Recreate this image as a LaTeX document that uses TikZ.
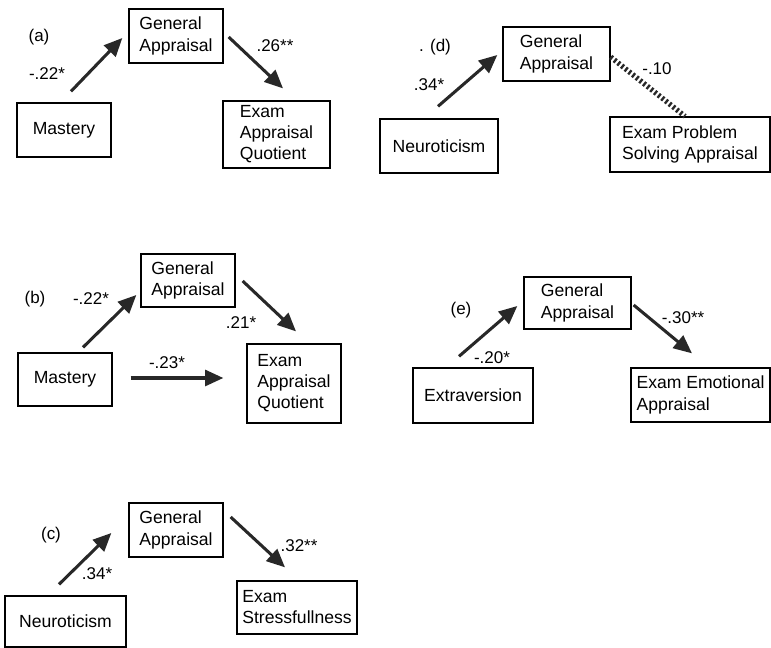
\documentclass[tikz,border=0pt]{standalone}
\usepackage{fontspec}
\setmainfont{Liberation Sans}
\usepackage{tikz}
\usetikzlibrary{arrows.meta, calc}
\definecolor{pathgray}{RGB}{40, 40, 40}

\begin{document}
\begin{tikzpicture}[x=0.03cm, y=0.03cm,
    box/.style={draw, line width=1.1pt, align=left, inner sep=3pt, font=\fontsize{15}{18}\selectfont},
    arr/.style={pathgray, line width=2.6pt, -{Triangle[length=0.55cm, width=0.48cm]}},
    nopath/.style={pathgray, line width=4.5pt, dash pattern=on 2pt off 2pt},
    coef/.style={font=\fontsize{14.5}{16}\selectfont}]

\useasboundingbox (0,0) rectangle (771,648);

% (a) Mastery
\node[coef] (labA) at (39,611) {(a)};
\node[box, minimum width=2.82cm, minimum height=1.62cm] (gaA) at (176,612) {General\\Appraisal};
\node[box, minimum width=2.82cm, minimum height=1.62cm] (maA) at (64,518) {Mastery};
\node[box, minimum width=3.21cm, minimum height=2.01cm] (exA) at (276.5,513.5) {Exam\\Appraisal\\Quotient};
\draw[arr] ($(maA.north)+(7,11)$) -- ($(gaA.west)+(-6,-2)$);
\draw[arr] ($(gaA.east)+(5,-1)$) -- ($(exA.north)+(6.5,12)$);
\node[coef] (cA1) at (47,574) {-.22*};
\node[coef] (cA2) at (275,602) {.26**};

% (d) Neuroticism
\node[coef] (labD) at (435,601) {. (d)};
\node[box, minimum width=3.21cm, minimum height=1.62cm] (gaD) at (556.5,594) {General\\Appraisal};
\node[box, minimum width=3.54cm, minimum height=1.62cm] (neD) at (439,502) {Neuroticism};
\node[box, minimum width=4.8cm, minimum height=1.65cm] (exD) at (690,503.5) {Exam Problem\\Solving Appraisal};
\draw[arr] ($(neD.north)+(-1,12)$) -- ($(gaD.west)+(-5,-1)$);
\draw[nopath] ($(gaD.east)+(0,-3)$) -- ($(exD.north)+(-5,0)$);
\node[coef] (cD1) at (429,563) {.34*};
\node[coef] (cD2) at (657,579) {-.10};

% (b) Mastery, direct path
\node[coef] (labB) at (35,349) {(b)};
\node[box, minimum width=2.82cm, minimum height=1.59cm] (gaB) at (188,367.5) {General\\Appraisal};
\node[box, minimum width=2.82cm, minimum height=1.59cm] (maB) at (65,268.5) {Mastery};
\node[box, minimum width=2.82cm, minimum height=2.37cm] (exB) at (294,264.5) {Exam\\Appraisal\\Quotient};
\draw[arr] ($(maB.north)+(18,5)$) -- ($(gaB.west)+(-4,-14.5)$);
\draw[arr] ($(gaB.east)+(7,-0.5)$) -- ($(exB.north)+(2,12)$);
\draw[arr] ($(maB.east)+(18,1.5)$) -- ($(exB.west)+(-23,5.5)$);
\node[coef] (cB1) at (91,349) {-.22*};
\node[coef] (cB2) at (241,325) {.21*};
\node[coef] (cB3) at (167,285) {-.23*};

% (e) Extraversion
\node[coef] (labE) at (461,338) {(e)};
\node[box, minimum width=3.21cm, minimum height=1.56cm] (gaE) at (577.5,345) {General\\Appraisal};
\node[box, minimum width=3.6cm, minimum height=1.65cm] (exvE) at (473,252.5) {Extraversion};
\node[box, minimum width=4.17cm, minimum height=1.62cm] (exE) at (700.5,253) {Exam Emotional\\Appraisal};
\draw[arr] ($(exvE.north)+(-14,11)$) -- ($(gaE.west)+(-6,-3)$);
\draw[arr] ($(gaE.east)+(2,-2)$) -- ($(exE.north)+(-8.5,14)$);
\node[coef] (cE1) at (492,290) {-.20*};
\node[coef] (cE2) at (683,330) {-.30**};

% (c) Neuroticism
\node[coef] (labC) at (51,113) {(c)};
\node[box, minimum width=2.82cm, minimum height=1.62cm] (gaC) at (176,118) {General\\Appraisal};
\node[box, minimum width=3.63cm, minimum height=1.53cm] (neC) at (65.5,26.5) {Neuroticism};
\node[box, minimum width=3.6cm, minimum height=1.59cm] (exC) at (297,40.5) {Exam\\Stressfullness};
\draw[arr] ($(neC.north)+(-6.5,11)$) -- ($(gaC.west)+(-17,-3)$);
\draw[arr] ($(gaC.east)+(7,13)$) -- ($(exC.north)+(-12,13)$);
\node[coef] (cC1) at (97,74) {.34*};
\node[coef] (cC2) at (299,102) {.32**};

\end{tikzpicture}
\end{document}
